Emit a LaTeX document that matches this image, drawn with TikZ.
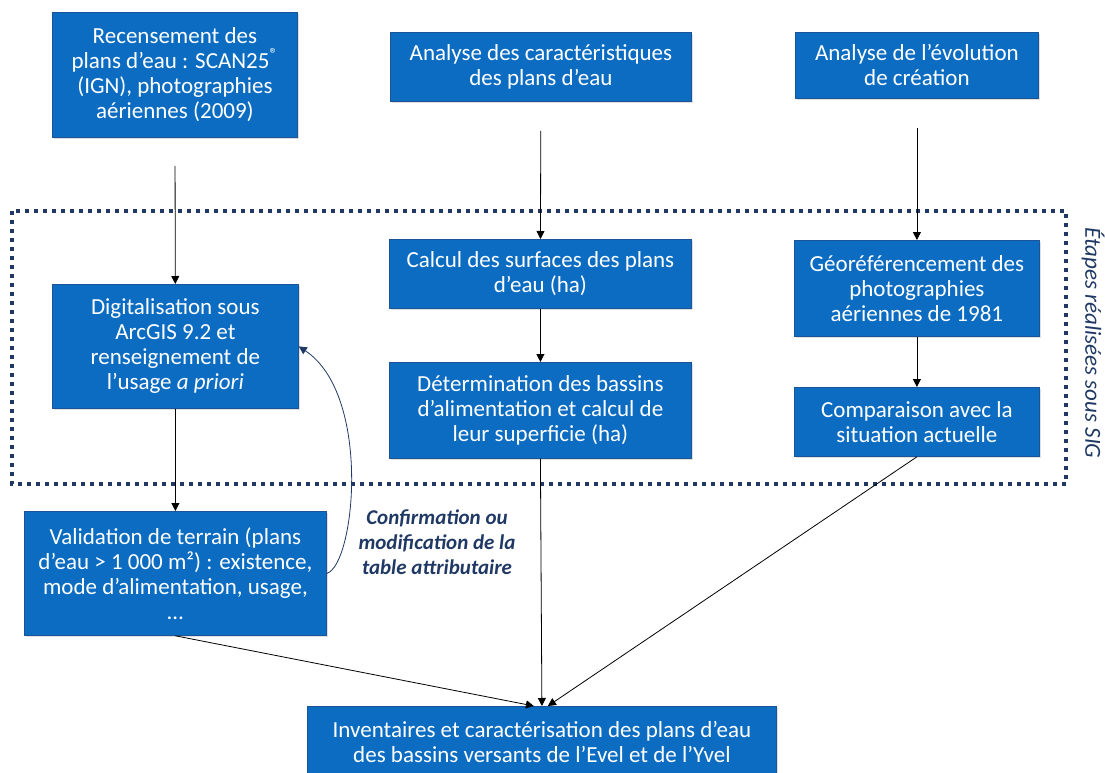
\documentclass[tikz,border=0pt]{standalone}
\usepackage{fontspec}
\setmainfont{Carlito}
\usetikzlibrary{arrows.meta,shadows}

\definecolor{boxblue}{HTML}{0B6CC2}
\definecolor{boxedge}{HTML}{1D5497}
\definecolor{navy}{HTML}{1F3864}

\begin{document}
\begin{tikzpicture}[x=1pt, y=-1pt,
            box/.style={
                draw=boxedge,
                fill=boxblue,
                text=white,
                line width=0.8pt,
                font=\fontsize{23}{25}\selectfont,
                inner sep=2pt,
                align=center,
                anchor=north west,
                drop shadow={shadow xshift=1.5pt, shadow yshift=-2pt, opacity=0.25}
            },
            gisbox/.style={
                draw=navy,
                line width=3.5pt,
                dash pattern=on 4pt off 5pt
            },
            note/.style={
                text=navy,
                font=\fontsize{21}{25}\selectfont\bfseries\itshape,
                align=center
            },
            link/.style={
                draw,
                line width=0.8pt,
                -{Triangle[width=8pt,length=8pt]}
            }
        ]
        \useasboundingbox (0,0) rectangle (1105,773);

        % Dashed frame: steps done under GIS
        \draw[gisbox] (12,211) rectangle (1066,484);
        \node[text=navy, rotate=-90, font=\fontsize{23}{25}\selectfont\itshape]
            (gislabel) at (1093,343) {Étapes réalisées sous SIG};

        % Top row
        \node[box, minimum width=245pt, minimum height=125pt] (rec) at (52,12)
            {Recensement des\\plans d’eau : SCAN25\textsuperscript{®}\\(IGN), photographies\\aériennes (2009)};
        \node[box, minimum width=301pt, minimum height=69pt] (ana) at (390,32)
            {Analyse des caractéristiques\\des plans d’eau};
        \node[box, minimum width=243pt, minimum height=66pt] (evo) at (795,32)
            {Analyse de l’évolution\\de création};

        % Inside the frame
        \node[box, minimum width=246pt, minimum height=124pt] (dig) at (52,284)
            {Digitalisation sous\\ArcGIS 9.2 et\\renseignement de\\l’usage \textit{a priori}};
        \node[box, minimum width=302pt, minimum height=69pt] (calc) at (389,239)
            {Calcul des surfaces des plans\\d’eau (ha)};
        \node[box, minimum width=302pt, minimum height=96pt] (det) at (389,362)
            {Détermination des bassins\\d’alimentation et calcul de\\leur superficie (ha)};
        \node[box, minimum width=245pt, minimum height=96pt] (geo) at (794,240)
            {Géoréférencement des\\photographies\\aériennes de 1981};
        \node[box, minimum width=245pt, minimum height=69pt] (comp) at (794,387)
            {Comparaison avec la\\situation actuelle};

        % Below the frame
        \node[box, minimum width=302pt, minimum height=124pt] (val) at (24,511)
            {Validation de terrain (plans\\d’eau > 1 000 m²) : existence,\\mode d’alimentation, usage,\\…};
        \node[box, minimum width=469pt, minimum height=72pt] (inv) at (307,706)
            {Inventaires et caractérisation des plans d’eau\\des bassins versants de l’Evel et de l’Yvel};

        \node[note] (confirm) at (437,542)
            {Confirmation ou\\modification de la\\table attributaire};

        % Connectors
        \draw[link, shorten <=28pt] (rec) -- (dig);
        \draw[link, shorten <=29pt] (ana) -- (calc);
        \draw[link, shorten <=29pt] (evo) -- (geo);
        \draw[link] (calc) -- (det);
        \draw[link] (geo) -- (comp);
        \draw[link] (dig) -- (val);
        \draw[link] (val.south) -- ([xshift=-8pt]inv.north);
        \draw[link] (det.south) -- (inv.north);
        \draw[link] (comp.south) -- ([xshift=6pt]inv.north);
        \draw[link, draw=navy] (val.east)
            .. controls (355,565) and (372,395) .. (dig.east);
\end{tikzpicture}
\end{document}
